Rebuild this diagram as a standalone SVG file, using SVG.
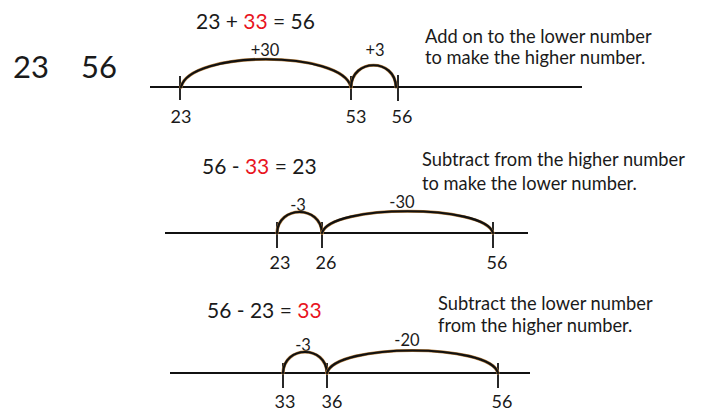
<svg xmlns="http://www.w3.org/2000/svg" width="706" height="412" viewBox="0 0 706 412">
<style>
text{font-family:Lato,"Open Sans","Liberation Sans",sans-serif;fill:#1a1a1a}
.eq{font-size:21px}
.red{fill:#e8141e}
.lbl{font-size:18px;text-anchor:middle}
.jmp{font-size:16.5px;text-anchor:middle}
.note{font-size:18.3px}
.big{font-size:31px}
.axis{stroke:#111;stroke-width:2;fill:none}
.tick{stroke:#111;stroke-width:1.8}
.arcU{stroke:#b07a3a;stroke-width:3.2;fill:none;stroke-linecap:round}
.arc{stroke:#111;stroke-width:2.2;fill:none;stroke-linecap:round}
</style>
<rect width="706" height="412" fill="#fff"/>
<g id="numbers"><text class="big" x="13" y="78">23</text><text class="big" x="81" y="78">56</text></g>

<g id="section1">
<text class="eq" x="196" y="29">23 + <tspan class="red">33</tspan> = 56</text>
<text class="note" x="425" y="43">Add on to the lower number</text>
<text class="note" x="425" y="64">to make the higher number.</text>
<line class="axis" x1="150" y1="87" x2="582" y2="87"/>
<line class="tick" x1="180" y1="76" x2="180" y2="100"/>
<line class="tick" x1="351" y1="76" x2="351" y2="100"/>
<line class="tick" x1="398" y1="75" x2="398" y2="101"/>
<text class="lbl" x="181" y="123">23</text>
<text class="lbl" x="356" y="123">53</text>
<text class="lbl" x="402" y="123">56</text>
<text class="jmp" x="265" y="56">+30</text>
<text class="jmp" x="375" y="56">+3</text>
</g>

<g id="section2">
<text class="eq" x="202" y="174">56 - <tspan class="red">33</tspan> = 23</text>
<text class="note" x="422" y="166">Subtract from the higher number</text>
<text class="note" x="422" y="190">to make the lower number.</text>
<line class="axis" x1="165" y1="233" x2="528" y2="233"/>
<line class="tick" x1="277" y1="222" x2="277" y2="248"/>
<line class="tick" x1="322" y1="222" x2="322" y2="248"/>
<line class="tick" x1="493" y1="222" x2="493" y2="248"/>
<text class="lbl" x="280" y="269">23</text>
<text class="lbl" x="326" y="269">26</text>
<text class="lbl" x="497" y="269">56</text>
<text class="jmp" x="298" y="211">-3</text>
<text class="jmp" x="402" y="208">-30</text>
</g>

<g id="section3">
<text class="eq" x="207" y="318">56 - 23 = <tspan class="red">33</tspan></text>
<text class="note" x="438" y="310">Subtract the lower number</text>
<text class="note" x="438" y="332">from the higher number.</text>
<line class="axis" x1="170" y1="373" x2="530" y2="373"/>
<line class="tick" x1="283" y1="363" x2="283" y2="388"/>
<line class="tick" x1="327" y1="363" x2="327" y2="388"/>
<line class="tick" x1="498" y1="363" x2="498" y2="388"/>
<text class="lbl" x="285" y="408">33</text>
<text class="lbl" x="332" y="408">36</text>
<text class="lbl" x="502" y="408">56</text>
<text class="jmp" x="303" y="351">-3</text>
<text class="jmp" x="407" y="346">-20</text>
</g>

<g id="connectors">
<path class="arcU" d="M181,87 C190,50 342,50 351,87"/>
<path class="arc" d="M181,87 C190,50 342,50 351,87"/>
<path class="arcU" d="M351,87 C352,58 395,58 396,87"/>
<path class="arc" d="M351,87 C352,58 395,58 396,87"/>
<path class="arcU" d="M277,233 C278,205 321,205 322,233"/>
<path class="arc" d="M277,233 C278,205 321,205 322,233"/>
<path class="arcU" d="M322,233 C330,204 485,204 493,233"/>
<path class="arc" d="M322,233 C330,204 485,204 493,233"/>
<path class="arcU" d="M283,373 C284,345 326,345 327,373"/>
<path class="arc" d="M283,373 C284,345 326,345 327,373"/>
<path class="arcU" d="M327,373 C335,343 490,343 498,373"/>
<path class="arc" d="M327,373 C335,343 490,343 498,373"/>
</g>
</svg>
